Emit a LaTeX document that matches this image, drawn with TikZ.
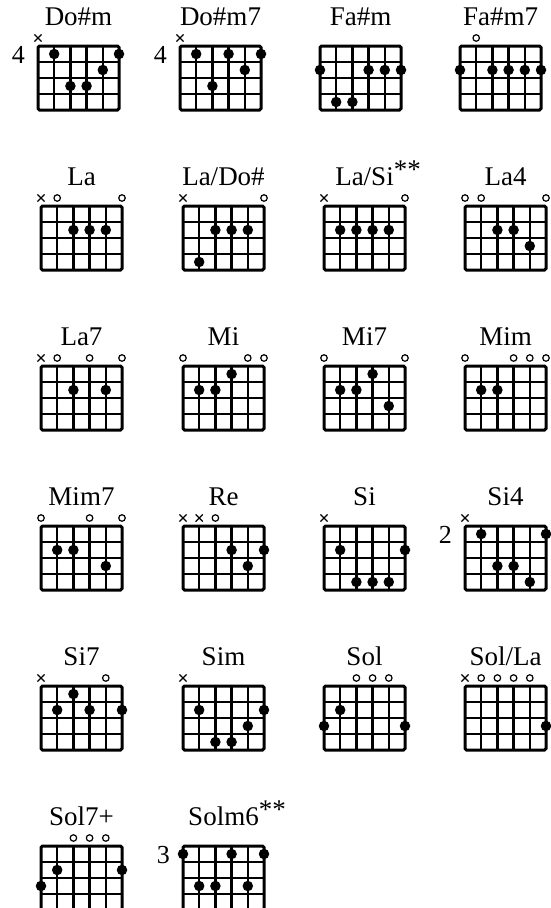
\documentclass[tikz,border=0pt]{standalone}
\usepackage{fontspec}
\setmainfont{Liberation Serif}
\usetikzlibrary{shapes.misc}

% one chord box: grid corner x, y, name, title, six strings (x, o or fret), position
\newcommand{\chordbox}[6]{%
  \begin{scope}[shift={(#1,#2)}]
    \node[chordname] (#3) at (40.5,-21) {#4};
    \node[fretnum] (#3-pos) at (-13,9) {#6};
    \foreach \f in {16,32,48} \draw[fretline] (0,\f) -- (81,\f);
    \foreach \s in {16.2,32.4,48.6,64.8} \draw[fretline] (\s,0) -- (\s,64);
    \draw[gridframe] (0,0) rectangle (81,64);
    \foreach \v [count=\i] in {#5} {
      \if x\v \node[mutemark] (#3-s\i) at ({(\i-1)*16.2},-8) {};
      \else\if o\v \node[openmark] (#3-s\i) at ({(\i-1)*16.2},-8) {};
      \else \node[fingerdot] (#3-s\i) at ({(\i-1)*16.2},{\v*16-8}) {};
      \fi\fi}
  \end{scope}}

\begin{document}
\begin{tikzpicture}[x=1pt,y=-1pt,
  chordname/.style={anchor=base,inner sep=0pt,font=\fontsize{27}{30}\selectfont},
  fretnum/.style={anchor=east,inner sep=0pt,font=\fontsize{26}{30}\selectfont},
  gridframe/.style={line width=3pt,rounded corners=1.5pt},
  fretline/.style={line width=2.4pt},
  fingerdot/.style={circle,fill=black,inner sep=0pt,minimum size=10.5pt},
  openmark/.style={circle,draw,line width=1.2pt,inner sep=0pt,minimum size=6.5pt},
  mutemark/.style={cross out,draw,line width=1.2pt,inner sep=0pt,minimum size=6pt}]
  \useasboundingbox (0,0) rectangle (550,908);
  % Row 1
  \chordbox{38}{46}{dosm}{Do\#m}{x,1,3,3,2,1}{4}
  \chordbox{180}{46}{dosm7}{Do\#m7}{x,1,3,1,2,1}{4}
  \chordbox{320}{46}{fasm}{Fa\#m}{2,4,4,2,2,2}{}
  \chordbox{460}{46}{fasm7}{Fa\#m7}{2,o,2,2,2,2}{}
  % Row 2
  \chordbox{41}{206}{la}{La}{x,o,2,2,2,o}{}
  \chordbox{183}{206}{la-dos}{La/Do\#}{x,4,2,2,2,o}{}
  \chordbox{324}{206}{la-si}{La/Si\rlap{\raisebox{7pt}{**}}}{x,2,2,2,2,o}{}
  \chordbox{465}{206}{la4}{La4}{o,o,2,2,3,o}{}
  % Row 3
  \chordbox{41}{366}{la7}{La7}{x,o,2,o,2,o}{}
  \chordbox{183}{366}{mi}{Mi}{o,2,2,1,o,o}{}
  \chordbox{324}{366}{mi7}{Mi7}{o,2,2,1,3,o}{}
  \chordbox{465}{366}{mim}{Mim}{o,2,2,o,o,o}{}
  % Row 4
  \chordbox{41}{526}{mim7}{Mim7}{o,2,2,o,3,o}{}
  \chordbox{183}{526}{re}{Re}{x,x,o,2,3,2}{}
  \chordbox{324}{526}{si}{Si}{x,2,4,4,4,2}{}
  \chordbox{465}{526}{si4}{Si4}{x,1,3,3,4,1}{2}
  % Row 5
  \chordbox{41}{686}{si7}{Si7}{x,2,1,2,o,2}{}
  \chordbox{183}{686}{sim}{Sim}{x,2,4,4,3,2}{}
  \chordbox{324}{686}{sol}{Sol}{3,2,o,o,o,3}{}
  \chordbox{465}{686}{sol-la}{Sol/La}{x,o,o,o,o,3}{}
  % Row 6
  \chordbox{41}{846}{sol7M}{Sol7+}{3,2,o,o,o,2}{}
  \chordbox{183}{846}{solm6}{Solm6\rlap{\raisebox{7pt}{**}}}{1,3,3,1,3,1}{3}
\end{tikzpicture}
\end{document}
